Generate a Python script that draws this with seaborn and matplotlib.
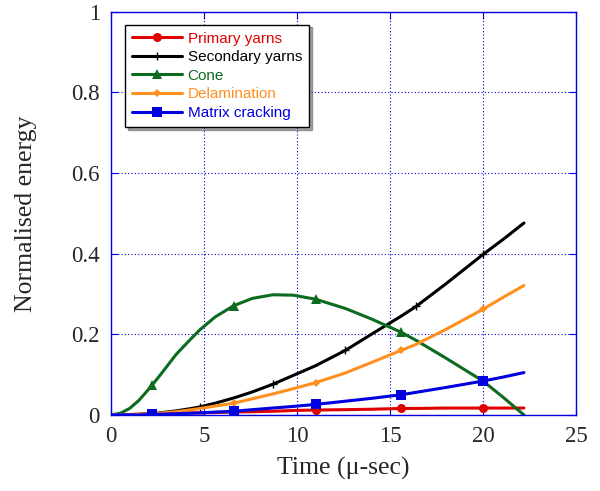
import numpy as np
import pandas as pd
import seaborn as sns
import matplotlib.pyplot as plt

# Data
time = [0, 0.5, 1, 1.5, 2.2, 2.8, 3.5, 4.2, 4.8, 5.6, 6.6, 7.6, 8.7, 9.8,
        11, 12.6, 14, 15.6, 16.4, 18, 20, 21.1, 22.2]
primary_yarns = [0, 0, 0.001, 0.002, 0.003, 0.003, 0.004, 0.005, 0.005, 0.006, 0.007, 0.008,
                 0.009, 0.011, 0.012, 0.013, 0.014, 0.016, 0.016, 0.017, 0.017, 0.017, 0.017]
secondary_yarns = [0, 0, 0, 0.001, 0.003, 0.006, 0.01, 0.015, 0.02, 0.029, 0.042, 0.057,
                   0.076, 0.098, 0.122, 0.16, 0.2, 0.245, 0.269, 0.325, 0.398, 0.436, 0.476]
cone = [0, 0.004, 0.016, 0.036, 0.073, 0.108, 0.15, 0.184, 0.212, 0.243, 0.271, 0.289,
        0.298, 0.297, 0.287, 0.264, 0.238, 0.205, 0.185, 0.141, 0.084, 0.043, 0.0]
delamination = [0, 0, 0, 0.001, 0.003, 0.005, 0.008, 0.012, 0.016, 0.022, 0.029, 0.04,
                0.052, 0.065, 0.08, 0.104, 0.13, 0.16, 0.175, 0.212, 0.262, 0.292, 0.321]
matrix_cracking = [0, 0, 0, 0, 0.001, 0.002, 0.003, 0.004, 0.005, 0.007, 0.009, 0.013,
                   0.017, 0.021, 0.026, 0.034, 0.041, 0.05, 0.056, 0.068, 0.084, 0.094, 0.105]

names = ["Primary yarns", "Secondary yarns", "Cone", "Delamination", "Matrix cracking"]
series = [primary_yarns, secondary_yarns, cone, delamination, matrix_cracking]
colors = ["#e00000", "#000000", "#0b6b1e", "#ff9020", "#0000e0"]
markers = ["o", "+", "^", "D", "s"]
msizes = [6.5, 6, 6.5, 4.5, 7]
mark_idx = [[4, 10, 14, 17, 20], [8, 12, 15, 18, 20], [4, 10, 14, 17, 20],
            [4, 10, 14, 17, 20], [4, 10, 14, 17, 20]]

df = pd.DataFrame({"time": time})
for n, s in zip(names, series):
    df[n] = s

sns.set_style("ticks")
plt.rcParams['font.family'] = ['Liberation Serif', 'DejaVu Serif']

fig = plt.figure(figsize=(6, 4.91), dpi=100)
ax = fig.add_axes([0.185, 0.155, 0.775, 0.821])

for n, c, m, ms, idx in zip(names, colors, markers, msizes, mark_idx):
    sns.lineplot(data=df, x="time", y=n, ax=ax, color=c, lw=2.2, marker=m,
                 markersize=ms, markevery=idx, markeredgewidth=1 if m == "+" else 0,
                 markeredgecolor=c, label=n)

ax.set_xlim(0, 25)
ax.set_ylim(0, 1)
ax.set_xticks([0, 5, 10, 15, 20, 25])
ax.set_yticks([0, 0.2, 0.4, 0.6, 0.8, 1])
ax.set_yticklabels(["0", "0.2", "0.4", "0.6", "0.8", "1"])
ax.set_xlabel("Time (\u03bc-sec)", fontsize=18.5)
ax.set_ylabel("Normalised energy", fontsize=18.5)
ax.xaxis.set_label_coords(0.5, -0.105)
ax.yaxis.set_label_coords(-0.16, 0.5)
ax.tick_params(direction="in", top=True, right=True, color="#0000e0",
               labelsize=16.5, length=5, width=0.8, pad=8)
for sp in ax.spines.values():
    sp.set_color("#0000e0")
    sp.set_linewidth(1)
ax.grid(True, color="#0000e0", linestyle=(0, (1, 2)), linewidth=0.8)

leg = ax.legend(loc="upper left", bbox_to_anchor=(0.03, 0.968), borderaxespad=0,
                frameon=True, fancybox=False, shadow=True, handlelength=3.3,
                prop={"family": "Liberation Sans", "size": 11},
                borderpad=0.45, labelspacing=0.3, handletextpad=0.35)
leg.get_frame().set_edgecolor("black")
leg.get_frame().set_linewidth(1)
for txt, c in zip(leg.get_texts(), colors):
    txt.set_color(c)

fig.savefig("out.png", dpi=100)
